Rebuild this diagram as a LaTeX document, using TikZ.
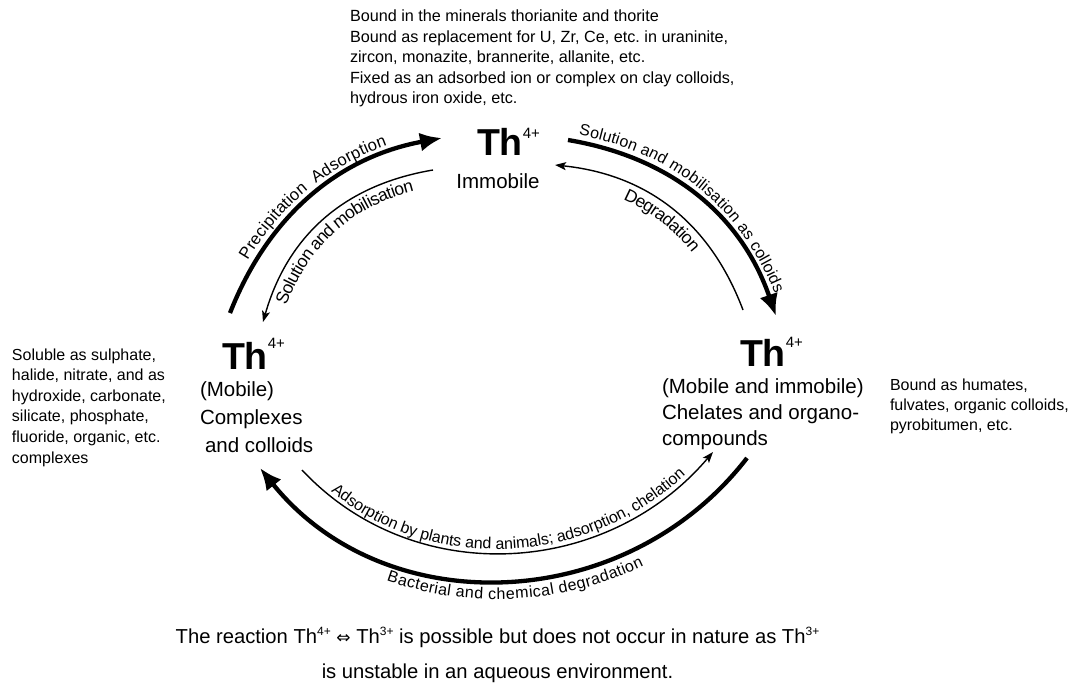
\documentclass[tikz,border=0pt]{standalone}
\usepackage{fontspec}
\setmainfont{Liberation Sans}
\newfontfamily\dvsfont{DejaVu Sans}
\usetikzlibrary{arrows.meta,decorations.text}
\newcommand{\thion}[2]{Th\raisebox{#1pt}{\fontseries{m}\fontsize{15}{15}\selectfont #2}}
\newcommand{\smallsup}[1]{\raisebox{8pt}{\fontsize{12}{12}\selectfont #1}}
\newcommand{\curvefont}{\fontsize{16}{16}\selectfont}
\newcommand{\curvefontup}{\fontsize{17.5}{17.5}\selectfont}
\newcommand{\curvefontmid}{\fontsize{16.6}{16.6}\selectfont}
\frenchspacing
\begin{document}
\frenchspacing
\begin{tikzpicture}[x=1pt,y=-1pt,
  every node/.style={inner sep=0pt,outer sep=0pt},
  body/.style={font=\fontsize{16.2}{20.5}\selectfont,align=left,anchor=base west},
  caption/.style={align=left,anchor=base west},
  ion/.style={font=\fontsize{37.5}{40}\selectfont\bfseries,anchor=base west},
  heavy/.style={line width=4.3pt,-{Latex[length=22pt,width=19pt]}},
  light/.style={line width=1.4pt,-{Stealth[length=11pt,width=8pt,inset=2.5pt]}},
  lbl/.style={decorate}
]
\fill[white] (0,0) rectangle (1077,683);
\useasboundingbox (0,0) rectangle (1077,683);

% nodes (multi-line nodes are placed by the baseline of their last line)
\node[ion] (thT) at (477,155) {\thion{17}{4+}};
\node[anchor=base,font=\fontsize{20.5}{24}\selectfont] (immT) at (498,188) {Immobile};
\node[ion] (thL) at (222,369) {\thion{21}{4+}};
\node[caption,font=\fontsize{20.5}{28}\selectfont] (capL) at (200,452) {(Mobile)\\Complexes\\\hspace*{5pt}and colloids};
\node[ion] (thR) at (740,366) {\thion{19}{4+}};
\node[caption,font=\fontsize{20.5}{26}\selectfont] (capR) at (662,445) {(Mobile and immobile)\\Chelates and organo-\\compounds};

\node[body] (topT) at (350,103.5) {Bound in the minerals thorianite and thorite\\Bound as replacement for U, Zr, Ce, etc. in uraninite,\\zircon, monazite, brannerite, allanite, etc.\\Fixed as an adsorbed ion or complex on clay colloids,\\hydrous iron oxide, etc.};
\node[body,font=\fontsize{16}{20.6}\selectfont] (leftT) at (12,463) {Soluble as sulphate,\\halide, nitrate, and as\\hydroxide, carbonate,\\silicate, phosphate,\\fluoride, organic, etc.\\complexes};
\node[body,font=\fontsize{16}{20}\selectfont] (rightT) at (890,430) {Bound as humates,\\fulvates, organic colloids,\\pyrobitumen, etc.};

\node[anchor=base,align=center,font=\fontsize{20.2}{35}\selectfont] (note) at (497.5,678) {The reaction Th\smallsup{4+} {\dvsfont\fontsize{17}{17}\selectfont ⇔} Th\smallsup{3+} is possible but does not occur in nature as Th\smallsup{3+}\\is unstable in an aqueous environment.};

% end points of the cycle arrows
\coordinate (a1s) at (230,313); \coordinate (a1e) at (442,138);
\coordinate (a2s) at (433,170); \coordinate (a2e) at (263,322);
\coordinate (a3s) at (568,140); \coordinate (a3e) at (776,316);
\coordinate (a4s) at (743,310); \coordinate (a4e) at (555,165);
\coordinate (a5s) at (747,458); \coordinate (a5e) at (260,468);
\coordinate (a6s) at (302,470); \coordinate (a6e) at (713,452);

% arrows
\draw[heavy] (a1s) .. controls (268.3,215.4) and (338.9,157) .. (a1e);
\draw[light] (a2s) .. controls (344.3,184.9) and (287.7,235.5) .. (a2e);
\draw[heavy] (a3s) .. controls (672.2,157.5) and (741.6,216.1) .. (a3e);
\draw[light] (a4s) .. controls (710.2,222.9) and (647.6,174.5) .. (a4e);
\draw[heavy] (a5s) .. controls (625.4,615.4) and (384.8,623.3) .. (a5e);
\draw[light] (a6s) .. controls (414.3,589.9) and (606.7,577.2) .. (a6e);

% labels along the arrows
\path[lbl,decoration={text along path,text align=center,raise=7pt,
  text={|\curvefontmid|Precipitation{\ \ }Adsorption}}]
  (a1s) .. controls (268.3,215.4) and (338.9,157) .. (a1e);
\path[lbl,decoration={text along path,text align=center,raise=-17pt,
  text={|\curvefontup|Solution and mobilisation}}]
  (a2e) .. controls (287.7,235.5) and (344.3,184.9) .. (a2s);
\path[lbl,decoration={text along path,text align={center,right indent=12pt},raise=7pt,
  text={|\curvefont|Solution and mobilisation as colloids}}]
  (a3s) .. controls (672.2,157.5) and (741.6,216.1) .. (a3e);
\path[lbl,decoration={text along path,text align=center,raise=-17pt,
  text={|\curvefontup|Degradation}}]
  (a4e) .. controls (647.6,174.5) and (710.2,222.9) .. (a4s);
\path[lbl,decoration={text along path,text align={center,left indent=20pt},raise=-19pt,
  text={|\curvefont|Bacterial and chemical degradation}}]
  (a5e) .. controls (384.8,623.3) and (625.4,615.4) .. (a5s);
\path[lbl,decoration={text along path,text align=center,raise=4pt,
  text={|\curvefont|Adsorption by plants and animals; adsorption, chelation}}]
  (a6s) .. controls (414.3,589.9) and (606.7,577.2) .. (a6e);
\end{tikzpicture}
\end{document}
